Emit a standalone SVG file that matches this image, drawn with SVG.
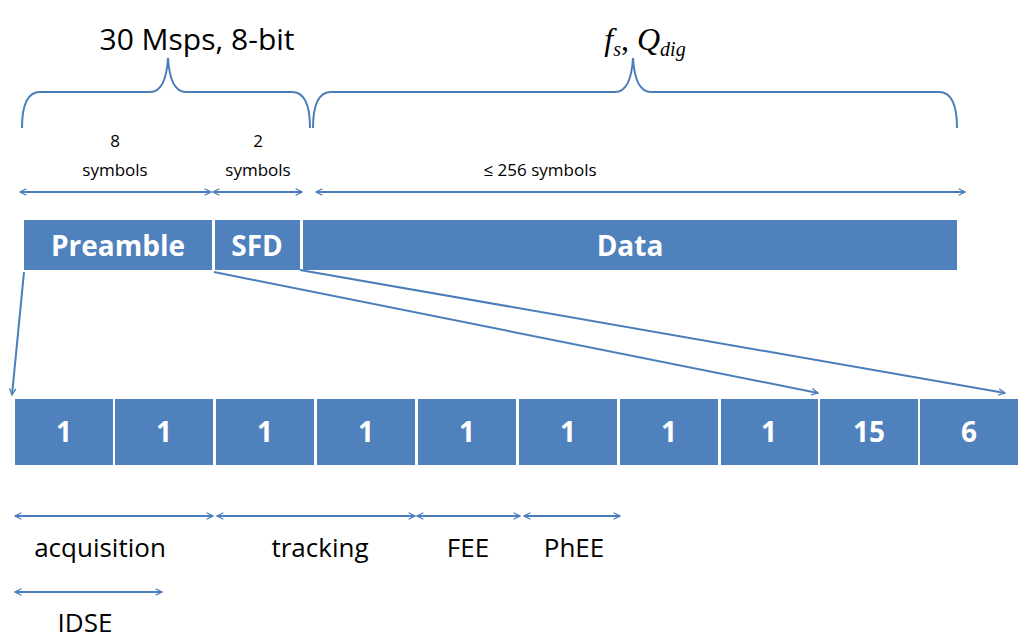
<svg xmlns="http://www.w3.org/2000/svg" width="1024" height="640" viewBox="0 0 1024 640">
<defs>
<marker id="ah" viewBox="0 0 10 10" refX="9" refY="5" markerWidth="8" markerHeight="8" orient="auto-start-reverse" markerUnits="userSpaceOnUse"><path d="M1,1 L9,5 L1,9" fill="none" stroke="#4a7ebb" stroke-width="1.6"/></marker>
<style>
.c{stroke:#4a7ebb;stroke-width:2;fill:none}
.a{stroke:#4a7ebb;stroke-width:2;fill:none;marker-start:url(#ah);marker-end:url(#ah)}
.b{fill:#4f81bd}
.w{fill:#fff;font-family:"Open Sans","Liberation Sans",sans-serif;font-weight:bold;font-size:28px;text-anchor:middle}
.t{fill:#000;font-family:"Open Sans","Liberation Sans",sans-serif;text-anchor:middle}
</style>
</defs>
<rect width="1024" height="640" fill="#fff"/>
<text class="t" x="197" y="50" font-size="30">30 Msps, 8-bit</text>
<text x="645" y="50" font-size="32" text-anchor="middle" font-family="Liberation Serif,serif" font-style="italic">f<tspan font-size="20" dy="6">s</tspan><tspan dy="-6" font-style="normal">, </tspan>Q<tspan font-size="20" dy="6">dig</tspan></text>
<g id="braces">
<path class="c" d="M22,128 Q22,92 40,92 L150,92 Q166,92 168,58 Q170,92 186,92 L292,92 Q310,92 310,128"/>
<path class="c" d="M313,128 Q313,92 331,92 L615,92 Q631,92 633,58 Q635,92 651,92 L939,92 Q957,92 957,128"/>
</g>
<text class="t" x="115" y="147" font-size="17">8</text>
<text class="t" x="115" y="176" font-size="17">symbols</text>
<text class="t" x="258" y="147" font-size="17">2</text>
<text class="t" x="258" y="176" font-size="17">symbols</text>
<text class="t" x="540" y="176" font-size="17">≤    256 symbols</text>
<g id="top-bar">
<rect class="b" x="24" y="220" width="188" height="50"/>
<rect class="b" x="215" y="220" width="85" height="50"/>
<rect class="b" x="303" y="220" width="654" height="50"/>
<text class="w" x="118" y="256">Preamble</text>
<text class="w" x="257" y="256">SFD</text>
<text class="w" x="630" y="256">Data</text>
</g>
<g id="cells">
<rect class="b" x="15" y="399" width="98" height="66"/><text class="w" x="64" y="442">1</text>
<rect class="b" x="115" y="399" width="98" height="66"/><text class="w" x="164" y="442">1</text>
<rect class="b" x="216" y="399" width="98" height="66"/><text class="w" x="265" y="442">1</text>
<rect class="b" x="317" y="399" width="98" height="66"/><text class="w" x="366" y="442">1</text>
<rect class="b" x="418" y="399" width="98" height="66"/><text class="w" x="467" y="442">1</text>
<rect class="b" x="519" y="399" width="98" height="66"/><text class="w" x="568" y="442">1</text>
<rect class="b" x="620" y="399" width="98" height="66"/><text class="w" x="669" y="442">1</text>
<rect class="b" x="721" y="399" width="97" height="66"/><text class="w" x="769" y="442">1</text>
<rect class="b" x="820" y="399" width="98" height="66"/><text class="w" x="869" y="442">15</text>
<rect class="b" x="920" y="399" width="98" height="66"/><text class="w" x="969" y="442">6</text>
</g>
<g id="connectors">
<line class="a" x1="20" y1="192" x2="211" y2="192"/>
<line class="a" x1="213" y1="192" x2="302" y2="192"/>
<line class="a" x1="316" y1="192" x2="965" y2="192"/>
<path class="c" marker-end="url(#ah)" d="M24,272 L12,395"/>
<path class="c" marker-end="url(#ah)" d="M214,272 L818,393"/>
<path class="c" marker-end="url(#ah)" d="M300,270 L1005,393"/>
<line class="a" x1="15" y1="516" x2="213" y2="516"/>
<line class="a" x1="217" y1="516" x2="415" y2="516"/>
<line class="a" x1="417" y1="516" x2="520" y2="516"/>
<line class="a" x1="524" y1="516" x2="620" y2="516"/>
<line class="a" x1="15" y1="592" x2="162" y2="592"/>
</g>
<text class="t" x="100" y="557" font-size="26">acquisition</text>
<text class="t" x="320" y="557" font-size="26">tracking</text>
<text class="t" x="468" y="557" font-size="26">FEE</text>
<text class="t" x="574" y="557" font-size="26">PhEE</text>
<text class="t" x="85" y="632" font-size="26">IDSE</text>
</svg>
